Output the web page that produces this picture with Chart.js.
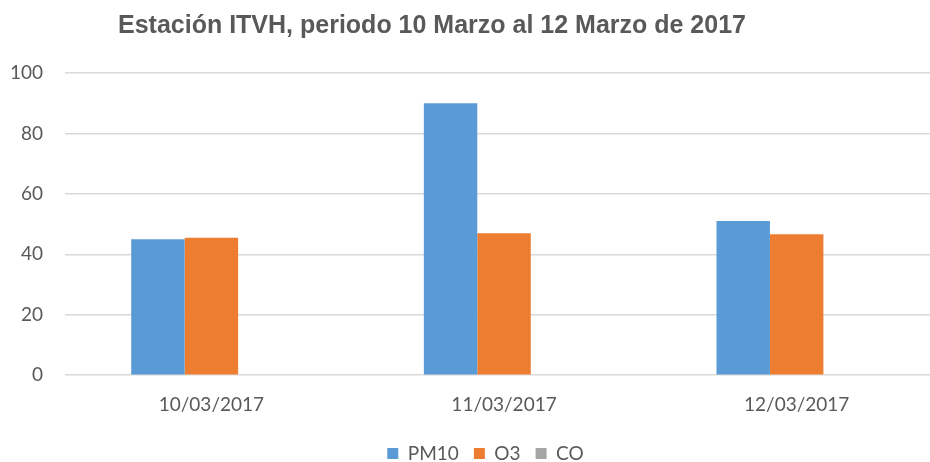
<!DOCTYPE html>
<html>
<head>
<meta charset="utf-8">
<script src="https://cdn.jsdelivr.net/npm/chart.js@4"></script>
<style>
  html, body { margin: 0; padding: 0; background: #fff; overflow: hidden; }
  #wrap { width: 966px; height: 478px; margin-left: -22px; }
</style>
</head>
<body>
<div id="wrap"><canvas id="myChart" width="966" height="478"></canvas></div>
<script>
// Datos
const fechas = ['10/03/2017', '11/03/2017', '12/03/2017'];
const pm10 = [45, 90, 51];
const o3 = [45.5, 47, 46.6];
const co = [0, 0, 0];
const yTicks = [0, 20, 40, 60, 80, 100];
const titulo = 'Estación ITVH, periodo 10 Marzo al 12 Marzo de 2017';

const textColor = '#595959';
const tickFont = { family: 'Lato', size: 19 };

// Title drawn by hand so it sits where Excel put it
// (canvas is shifted 22px left, so add that back)
const tituloPlugin = {
  id: 'tituloPlugin',
  afterDraw(chart) {
    const ctx = chart.ctx;
    ctx.save();
    ctx.font = 'bold 25px "Liberation Sans", Arial, sans-serif';
    ctx.fillStyle = textColor;
    ctx.textAlign = 'center';
    ctx.textBaseline = 'middle';
    ctx.fillText(titulo, 432 + 22, 26);
    ctx.restore();
  }
};

// Nudge the legend box a bit (Excel's legend is not centred on the canvas)
const legendShift = {
  id: 'legendShift',
  afterLayout(chart) {
    const lg = chart.legend;
    if (!lg) return;
    lg.left += 20;
    lg.right += 20;
    lg.top -= 5;
    lg.bottom -= 5;
  }
};

document.addEventListener('DOMContentLoaded', () => {
  const ctx = document.getElementById('myChart').getContext('2d');
  new Chart(ctx, {
    type: 'bar',
    data: {
      labels: fechas,
      datasets: [
        { label: 'PM10', data: pm10, backgroundColor: '#5B9BD5' },
        { label: 'O3', data: o3, backgroundColor: '#ED7D31' },
        { label: 'CO', data: co, backgroundColor: '#A5A5A5' }
      ]
    },
    options: {
      responsive: false,
      animation: false,
      devicePixelRatio: 1,
      layout: { padding: { top: 73, left: 10, right: 1, bottom: 0 } },
      datasets: {
        bar: { categoryPercentage: 0.548, barPercentage: 1 }
      },
      scales: {
        x: {
          grid: { display: false, drawTicks: false },
          border: { display: false },
          ticks: { color: textColor, font: tickFont, padding: 18 }
        },
        y: {
          min: 0,
          max: 100,
          afterBuildTicks: (axis) => { axis.ticks = yTicks.map(v => ({ value: v })); },
          grid: { color: '#d9d9d9', lineWidth: 1.5, drawTicks: false },
          border: { display: false },
          ticks: { color: textColor, font: tickFont, padding: 22 }
        }
      },
      plugins: {
        title: { display: false },
        tooltip: { enabled: false },
        legend: {
          display: true,
          position: 'bottom',
          labels: {
            color: textColor,
            font: tickFont,
            boxWidth: 11,
            boxHeight: 11,
            padding: 15
          }
        }
      }
    },
    plugins: [tituloPlugin, legendShift]
  });
});
</script>
</body>
</html>
